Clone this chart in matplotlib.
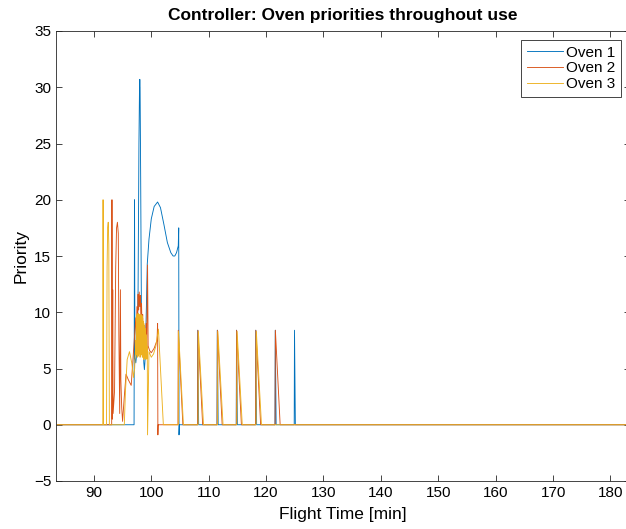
import matplotlib.pyplot as plt

plt.rcParams['font.family'] = ['Liberation Sans', 'DejaVu Sans']

# Oven 1 (time [min], priority)
oven1_t = [83.6, 97.0, 97.08, 97.15, 97.3, 97.5, 97.7, 97.85, 97.95, 98.0, 98.05, 98.15, 98.3,
           98.45, 98.55, 98.7, 98.8, 98.95, 99.15, 99.3, 99.6, 100.0, 100.5, 101.1, 101.6,
           102.2, 102.8, 103.4, 103.8, 104.1, 104.4, 104.7, 104.78, 104.83, 104.9,
           108.05, 108.1, 108.25, 111.45, 111.5, 111.65, 114.8, 114.85, 115.0,
           118.15, 118.2, 118.35, 121.55, 121.6, 121.75, 124.9, 124.95, 125.1, 184.0]
oven1_p = [0, 0, 20.0, 6.0, 5.5, 6.5, 12.0, 25.0, 30.0, 30.7, 30.0, 22.0, 8.0,
           6.5, 8.0, 5.5, 4.9, 6.0, 10.5, 14.3, 16.5, 18.3, 19.4, 19.8, 19.3,
           17.8, 16.2, 15.3, 15.0, 15.0, 15.3, 15.9, 17.5, -0.9, 0,
           0, 8.4, 0, 0, 8.4, 0, 0, 8.4, 0,
           0, 8.4, 0, 0, 8.4, 0, 0, 8.4, 0, 0]

# Oven 2
oven2_t = [83.6, 93.1, 93.15, 93.22, 93.28, 93.35, 93.6, 93.8, 93.95, 94.1, 94.25, 94.35,
           94.5, 94.62, 94.7, 94.85, 95.0, 95.3, 95.6, 96.0, 96.5, 96.9, 97.3,
           97.4, 97.5, 97.6, 97.7, 97.8, 97.9, 98.0, 98.1, 98.2, 98.3, 98.4, 98.5,
           98.6, 98.7, 98.8, 98.9, 99.0, 99.1, 99.2, 99.35, 99.45, 99.7, 100.0, 100.5,
           101.0, 101.1, 101.15, 101.2, 104.65, 104.7, 105.5,
           108.07, 108.12, 108.95, 111.47, 111.52, 112.35, 114.82, 114.87, 115.7,
           118.17, 118.22, 119.05, 121.57, 121.62, 122.45, 184.0]
oven2_p = [0, 0, 20.0, 0.5, 12.0, 1.0, 3.0, 14.0, 17.5, 18.0, 17.0, 8.0,
           1.0, 12.0, 4.0, 1.5, 0.3, 2.5, 4.5, 4.0, 3.5, 6.5, 9.5,
           8.0, 10.5, 9.0, 11.6, 10.2, 11.8, 10.5, 11.5, 9.2, 10.8, 8.5, 9.8,
           7.5, 8.8, 7.2, 8.0, 6.8, 9.0, 7.0, 14.2, 7.0, 6.6, 6.4, 6.8,
           7.5, 9.0, -0.9, 0, 0, 8.4, 0,
           0, 8.4, 0, 0, 8.4, 0, 0, 8.4, 0,
           0, 8.4, 0, 0, 8.4, 0, 0]

# Oven 3
oven3_t = [83.6, 91.55, 91.6, 91.68, 92.2, 92.3, 92.4, 92.5, 92.6, 92.7, 95.3,
           95.5, 95.8, 96.2, 96.6, 96.9, 97.1, 97.3,
           97.35, 97.4, 97.45, 97.5, 97.55, 97.6, 97.65, 97.7, 97.75, 97.8, 97.85,
           97.9, 97.95, 98.0, 98.05, 98.1, 98.15, 98.2, 98.25, 98.3, 98.35, 98.4,
           98.45, 98.5, 98.55, 98.6, 98.65, 98.7, 98.75, 98.8, 98.85, 98.9, 98.95,
           99.0, 99.05, 99.1, 99.15, 99.2, 99.25, 99.3, 99.35, 99.6, 100.0, 100.4,
           100.8, 101.25, 102.1, 104.7, 104.75, 105.6,
           108.15, 108.2, 109.1, 111.55, 111.6, 112.5, 114.9, 114.95, 115.85,
           118.25, 118.3, 119.2, 184.0]
oven3_p = [0, 0, 20.0, 0, 0, 14.0, 17.5, 18.0, 16.0, 0, 0,
           3.0, 5.8, 6.5, 5.5, 4.2, 5.0, 7.5,
           6.2, 9.6, 6.5, 9.8, 6.0, 9.4, 6.8, 9.9, 6.1, 9.5, 6.6,
           9.8, 6.3, 9.7, 6.0, 9.6, 6.9, 9.8, 6.2, 9.4, 6.5, 9.7,
           6.0, 9.5, 6.4, 9.2, 5.8, 9.0, 6.3, 8.8, 5.9, 8.6, 6.2,
           8.4, 5.8, 8.0, 6.1, 7.6, 5.9, 7.0, -0.9, 6.5, 6.0, 6.3,
           7.0, 8.5, 0, 0, 8.3, 0,
           0, 8.3, 0, 0, 8.3, 0, 0, 8.3, 0,
           0, 8.3, 0, 0]

fig = plt.figure(figsize=(6.26, 5.29), dpi=100)
ax = fig.add_axes([56 / 626, 48 / 529, 574 / 626, 450 / 529])

ax.plot(oven1_t, oven1_p, color='#0072BD', lw=0.65, label='Oven 1')
ax.plot(oven2_t, oven2_p, color='#D95319', lw=0.65, label='Oven 2')
ax.plot(oven3_t, oven3_p, color='#EDB120', lw=0.65, label='Oven 3')

ax.set_xlim(83.4, 183.4)
ax.set_ylim(-5, 35)
ax.set_xticks(range(90, 190, 10))
ax.set_yticks(range(-5, 40, 5))
ax.tick_params(direction='in', top=True, right=True, labelsize=11,
               color='#262626', length=4, width=0.6)
for s in ax.spines.values():
    s.set_color('#262626')
    s.set_linewidth(0.6)

ax.set_title('Controller: Oven priorities throughout use', fontsize=12.5,
             fontweight='bold', pad=8)
ax.set_xlabel('Flight Time [min]', fontsize=12.5, labelpad=5)
ax.set_ylabel('Priority', fontsize=12.5)

leg = ax.legend(loc='upper right', fontsize=11, fancybox=False, framealpha=1,
                edgecolor='#262626', handlelength=2.4, handletextpad=0.2,
                borderaxespad=0.6, labelspacing=0.12, borderpad=0.35)
leg.get_frame().set_linewidth(0.6)

fig.savefig('out.png', dpi=100)
